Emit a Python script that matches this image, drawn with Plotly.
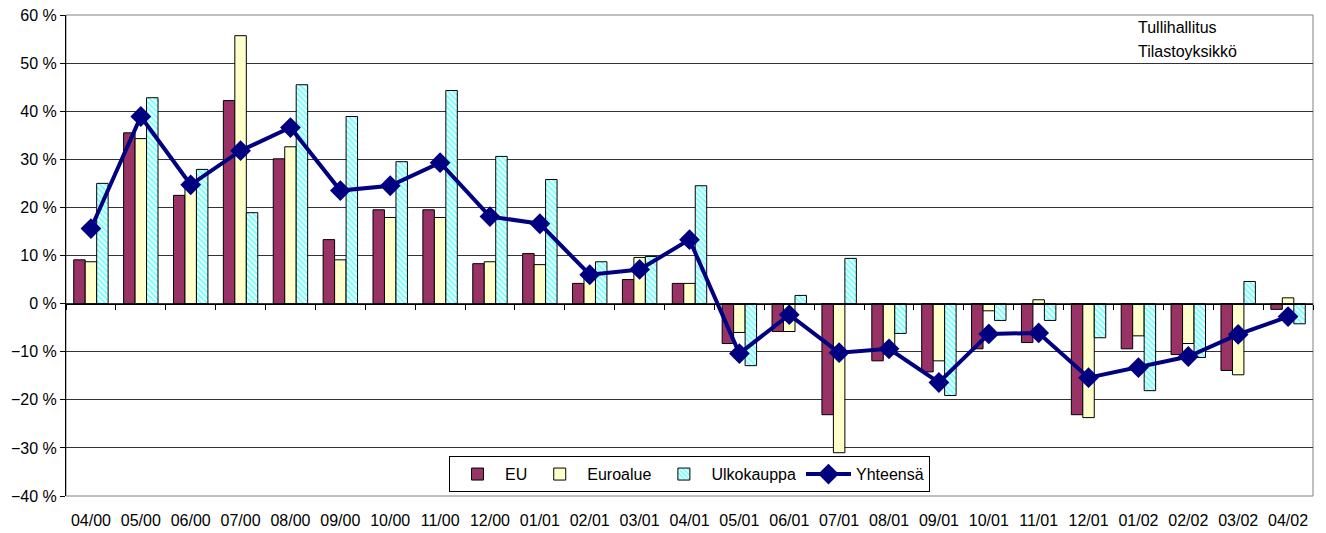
import plotly.graph_objects as go

# Kuukaudet (kk/vv)
months = ["04/00", "05/00", "06/00", "07/00", "08/00", "09/00", "10/00", "11/00",
          "12/00", "01/01", "02/01", "03/01", "04/01", "05/01", "06/01", "07/01",
          "08/01", "09/01", "10/01", "11/01", "12/01", "01/02", "02/02", "03/02", "04/02"]

# Muutos-% edellisen vuoden vastaavasta kuukaudesta
eu = [9.1, 35.5, 22.5, 42.2, 30.1, 13.3, 19.5, 19.5, 8.3, 10.4, 4.2, 5.0, 4.2,
      -8.3, -5.8, -23.1, -11.9, -14.2, -9.4, -8.1, -23.1, -9.4, -10.6, -13.9, -1.2]
euroalue = [8.7, 34.3, 24.0, 55.7, 32.6, 9.1, 17.9, 17.9, 8.7, 8.1, 6.0, 9.6, 4.2,
            -6.0, -5.8, -31.0, -10.5, -11.9, -1.5, 0.8, -23.7, -6.7, -8.3, -14.8, 1.2]
ulkokauppa = [25.0, 42.8, 27.9, 18.9, 45.5, 38.9, 29.5, 44.3, 30.6, 25.8, 8.7, 9.8, 24.5,
              -12.9, 1.7, 9.4, -6.2, -19.1, -3.5, -3.5, -7.1, -18.1, -11.2, 4.6, -4.2]
yhteensa = [15.6, 38.9, 24.7, 31.8, 36.6, 23.5, 24.5, 29.3, 18.1, 16.6, 6.0, 7.1, 13.3,
            -10.4, -2.3, -10.2, -9.4, -16.4, -6.3, -6.1, -15.4, -13.3, -11.0, -6.4, -2.7]

font = "Liberation Sans, Arial, sans-serif"
xrange = [-0.5, len(months) - 0.5]

fig = go.Figure()

fig.add_trace(go.Bar(
    x=months, y=eu, name="EU",
    marker=dict(color="#993366", line=dict(color="black", width=1)),
))
fig.add_trace(go.Bar(
    x=months, y=euroalue, name="Euroalue",
    marker=dict(color="#FFFFCC", line=dict(color="black", width=1)),
))
fig.add_trace(go.Bar(
    x=months, y=ulkokauppa, name="Ulkokauppa",
    marker=dict(color="white", line=dict(color="black", width=1),
                pattern=dict(shape="\\", fgcolor="#00FFFF", bgcolor="white",
                             size=4, solidity=0.6)),
))
fig.add_trace(go.Scatter(
    x=months, y=yhteensa, name="Yhteensä", xaxis="x2",
    mode="lines+markers",
    line=dict(color="#000080", width=4),
    marker=dict(symbol="diamond", size=16, color="#000080"),
))

fig.update_layout(
    width=1326, height=533,
    margin=dict(l=66, r=13, t=15, b=37, autoexpand=False),
    paper_bgcolor="white", plot_bgcolor="white",
    font=dict(family=font, size=16, color="black"),
    barmode="group", bargap=0.31, bargroupgap=0,
    xaxis=dict(
        type="category", range=xrange, autorange=False, automargin=False,
        showgrid=False, zeroline=False, showline=False,
        ticks="outside", ticklen=10, tickcolor="rgba(0,0,0,0)",
        tickfont=dict(size=16),
    ),
    # x-akseli nollatasolla, jakoviivat kategorioiden rajoilla
    xaxis2=dict(
        type="category", overlaying="x", range=xrange, autorange=False,
        anchor="free", position=0.4, automargin=False,
        showline=True, linecolor="black", linewidth=1,
        ticks="outside", ticklen=5, tickcolor="black", tickson="boundaries",
        showticklabels=False, showgrid=False, zeroline=False,
    ),
    yaxis=dict(
        range=[-40, 60], dtick=10, ticksuffix=" %", automargin=False,
        showgrid=True, gridcolor="#333333", gridwidth=1,
        zeroline=False, showline=True, linecolor="black", linewidth=1,
        ticks="outside", ticklen=5, tickcolor="black",
        tickfont=dict(size=16),
    ),
    legend=dict(
        orientation="h", x=0.5, xanchor="center", y=0.008, yanchor="bottom",
        bgcolor="white", bordercolor="black", borderwidth=1,
        font=dict(size=16), traceorder="normal", itemwidth=45,
    ),
    shapes=[dict(type="rect", xref="paper", yref="paper", x0=0, x1=1, y0=0, y1=1,
                 line=dict(color="#808080", width=1), layer="below")],
    annotations=[
        dict(text="Tullihallitus", xref="paper", yref="paper", x=0.858, y=0.973,
             xanchor="left", yanchor="middle", showarrow=False, font=dict(size=16)),
        dict(text="Tilastoyksikkö", xref="paper", yref="paper", x=0.858, y=0.925,
             xanchor="left", yanchor="middle", showarrow=False, font=dict(size=16)),
    ],
)

# sivun oletusmarginaali pois, jotta kuva täyttää ikkunan
fig.write_html("out.html", config={"displayModeBar": False},
               post_script="document.body.style.margin='0';")
